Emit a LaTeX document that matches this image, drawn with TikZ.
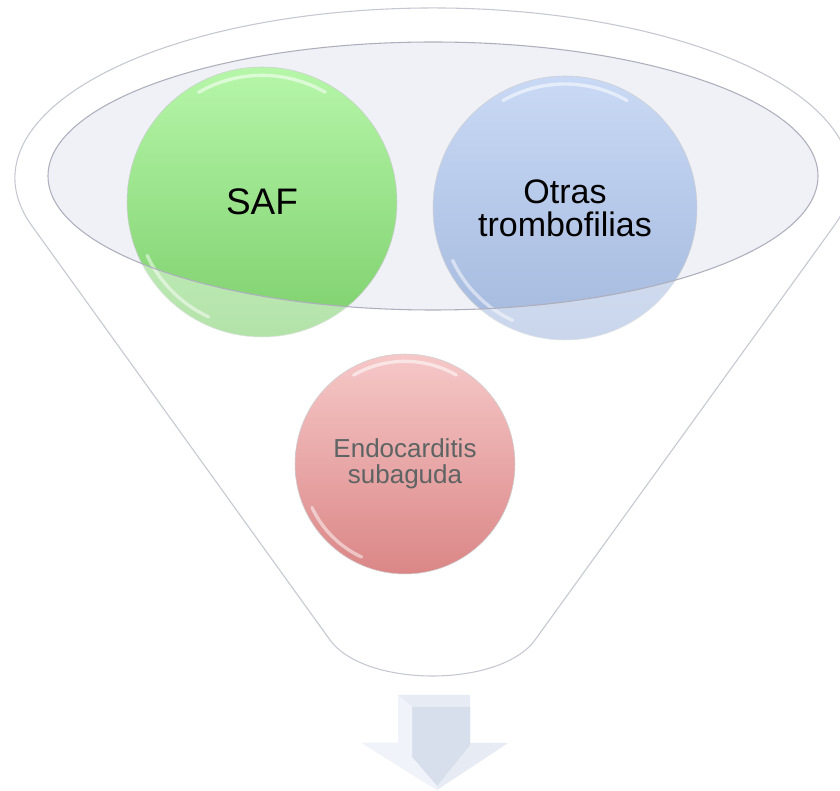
\documentclass[tikz,border=0pt]{standalone}
\usepackage{fontspec}
\setmainfont{Liberation Sans}
\definecolor{rimline}{HTML}{C6C8D1}
\definecolor{innerline}{HTML}{AEAFBD}
\definecolor{innerfill}{HTML}{F0F1F6}
\definecolor{balledge}{HTML}{CDD0D2}
\definecolor{greentop}{HTML}{B6F6A9}
\definecolor{greenbot}{HTML}{7DCF6C}
\definecolor{bluetop}{HTML}{C9D9F5}
\definecolor{bluebot}{HTML}{A4B9DE}
\definecolor{redtop}{HTML}{F6C8C8}
\definecolor{redbot}{HTML}{DB8686}
\definecolor{endotext}{HTML}{5E6363}
\definecolor{arrowbase}{HTML}{E6EBF4}
\definecolor{arrowface}{HTML}{D8DFEC}
\definecolor{arrowbevel}{HTML}{F0F3F9}
\begin{document}
\begin{tikzpicture}[x=0.75pt,y=-0.75pt,
  funnelline/.style={draw=rimline, line width=0.8pt},
  ball/.style={circle, inner sep=0pt, draw=balledge, line width=0.4pt,
               align=center, shading angle=0},
  gloss/.style={draw=white, line width=2.5pt, line cap=round, opacity=0.55}]
  \useasboundingbox[fill=white] (0,0) rectangle (840,791);

  % funnel body: top ellipse arc and the two walls meeting in a rounded bottom
  \coordinate (rimc) at (433,178);
  \coordinate (wallL) at (31.8,225.7);
  \coordinate (wallR) at (834.2,225.7);
  \coordinate (botL) at (330,640);
  \coordinate (botR) at (535,640);
  \def\funnelpath{(wallL)
     arc[start angle=163.7, end angle=376.3, x radius=418, y radius=170]
     -- (botR) .. controls (500,688) and (365,688) .. (botL) -- cycle}
  \fill[white] \funnelpath;

  % opening of the funnel
  \coordinate (mouth) at (433,176);
  \fill[innerfill] (mouth) ellipse [x radius=385, y radius=134];

  % the three balls
  \node[ball, minimum size=202.5pt, top color=greentop, bottom color=greenbot,
        font=\fontsize{27.7pt}{30pt}\selectfont] (saf) at (262,202) {SAF};
  \node[ball, minimum size=198pt, top color=bluetop, bottom color=bluebot,
        font=\fontsize{25.5pt}{24.75pt}\selectfont] (otras) at (565,208)
        {Otras\\trombofilias};
  \node[ball, minimum size=165pt, top color=redtop, bottom color=redbot,
        text=endotext, font=\fontsize{19.5pt}{19.5pt}\selectfont] (endo) at (405,464)
        {Endocarditis\\subaguda};

  % glossy highlights on the balls
  \foreach \b/\r in {saf/95, otras/93, endo/77}{
    \draw[gloss] ([shift={(60:\r pt)}]\b.center) arc[start angle=60, end angle=120, radius=\r pt];
    \draw[gloss, opacity=0.5] ([shift={(205:\r pt)}]\b.center) arc[start angle=205, end angle=245, radius=\r pt];
  }

  % front of the rim, half-transparent over the lower part of the balls
  \fill[white, opacity=0.42, even odd rule]
     (0,0) rectangle (840,345)
     (mouth) ellipse [x radius=385, y radius=134];

  % outlines of the funnel and of its opening
  \draw[funnelline] \funnelpath;
  \draw[draw=innerline, line width=0.8pt] (mouth) ellipse [x radius=385, y radius=134];

  % output arrow below the funnel
  \fill[arrowbase] (398,695) -- (470,695) -- (470,743) -- (508,743)
     -- (437,790) -- (362,743) -- (398,743) -- cycle;
  \fill[arrowface] (412,707) -- (470,707) -- (470,745) -- (437,786)
     -- (412,757) -- cycle;
  \fill[arrowbevel] (398,695) -- (412,707) -- (412,757) -- (398,743) -- cycle;
  \fill[arrowbevel] (362,743) -- (398,743) -- (412,757) -- (437,786) -- (437,790) -- cycle;
\end{tikzpicture}
\end{document}
